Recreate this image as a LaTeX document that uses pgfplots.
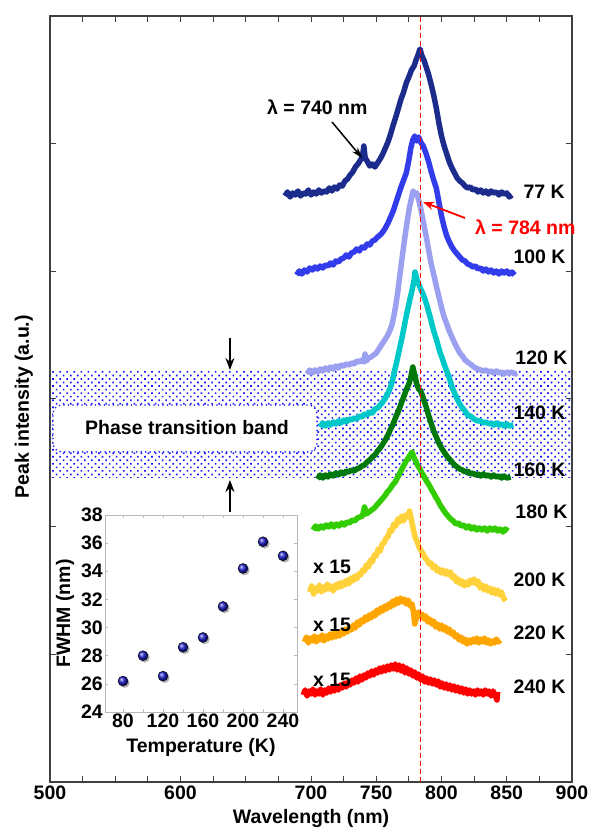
\documentclass[border=0pt]{standalone}
\usepackage{fontspec}
\setmainfont{Liberation Sans}
\usepackage{pgfplots}
\pgfplotsset{compat=1.18}
\usetikzlibrary{patterns,patterns.meta,arrows.meta,plotmarks}
\definecolor{cA}{RGB}{28,44,140}
\definecolor{cB}{RGB}{50,60,235}
\definecolor{cC}{RGB}{155,160,240}
\definecolor{cD}{RGB}{0,200,200}
\definecolor{cE}{RGB}{0,120,10}
\definecolor{cF}{RGB}{50,205,0}
\definecolor{cG}{RGB}{255,210,60}
\definecolor{cH}{RGB}{255,165,0}
\definecolor{cI}{RGB}{255,0,0}
\definecolor{ballblue}{RGB}{30,30,200}
\definecolor{dotblue}{RGB}{20,20,255}
\newcommand\fsz{\fontsize{19.5bp}{23bp}\selectfont\bfseries}
\pgfplotsset{spec/.style={line width=5.5bp, line join=round}}
\begin{document}
\begin{tikzpicture}[font=\fsz]
\begin{axis}[
  at={(0,0)}, anchor=south west,
  scale only axis, width=522bp, height=766bp,
  xmin=500, xmax=900, ymin=0, ymax=766,
  xtick={500,525,...,900},
  xticklabels={500,,,,600,,,,700,,750,,800,,850,,900},
  ytick={127.7,255.3,383,510.7,638.3},
  yticklabels={},
  tick align=inside,
  major tick length=6bp,
  axis line style={line width=1.2bp, black!75},
  tick style={line width=1bp, black!75},
  tick label style={font=\fsz},
  label style={font=\fsz},
  xlabel={Wavelength (nm)},
  ylabel={Peak intensity (a.u.)},
  xlabel style={at={(axis description cs:0.5,-0.047)}, anchor=center},
  ylabel style={at={(axis description cs:-0.050,0.49)}, anchor=center},
  clip=false,
]
% phase transition band
\addplot[draw=none, pattern={Dots[distance=5bp, angle=45, radius=1.15bp]}, pattern color=dotblue] coordinates {(500,304) (900,304) (900,411) (500,411)} -- cycle;
\filldraw[fill=white, draw=dotblue, line width=1.8bp, dash pattern=on 0bp off 4.5bp, line cap=round, rounded corners=9bp] (axis cs:502.3,330) rectangle (axis cs:704.6,377);
\node at (axis cs:605,354) {Phase transition band};
\draw[-{Stealth[length=12bp,width=9bp]}, line width=1.5bp] (axis cs:637.9,444) -- (axis cs:637.9,412);
\draw[-{Stealth[length=12bp,width=9bp]}, line width=1.5bp] (axis cs:637.9,270) -- (axis cs:637.9,302);

% 77 K
\addplot[cA, spec] coordinates {
(680,586) (682,590) (684,585) (686,589) (688,587) (690,591) (692,586) (694,589) (696,588) (698,592) (700,587) (702,590) (704,588) (706,592) (708,589) (710,591) (712,590) (714,594) (716,591) (718,595) (720,593) (722,597) (724,596) (726,601) (728,603) (730,607) (732,610) (734,615) (736,618) (738,622) (739.5,626) (740.5,636) (741.5,624) (743,621) (745,616) (747,618) (749,615) (751,619) (753,623) (755,628) (757,634) (759,640) (761,648) (763,657) (765,665) (767,674) (769,683) (771,690) (773,699) (775,705) (777,712) (779,716) (780.5,722) (782,727) (783.5,733) (785,726) (786.5,722) (788,716) (790,708) (792,698) (794,687) (796,674) (798,659) (800,646) (802,636) (804,628) (806,620) (808,614) (810,609) (812,604) (814,601) (816,599) (818,596) (820,594) (822,595) (824,592) (826,593) (828,590) (830,592) (832,589) (834,591) (836,588) (838,591) (840,589) (842,590) (844,587) (846,590) (848,588) (850,589) (852,585) (854,587)};
% 100 K
\addplot[cB, spec] coordinates {
(689,507) (691,511) (693,508) (695,512) (697,510) (699,514) (701,512) (703,515) (705,513) (707,516) (709,514) (711,517) (713,516) (715,519) (717,517) (719,521) (721,520) (723,523) (725,524) (727,527) (729,525) (731,529) (733,530) (735,533) (737,531) (739,535) (741,534) (743,538) (745,537) (747,541) (749,542) (751,545) (753,547) (755,550) (757,554) (759,559) (761,565) (763,571) (765,579) (767,587) (769,595) (771,602) (773,609) (775,622) (776.5,634) (778,642) (779.5,646) (781,641) (782.5,645) (784,640) (786,636) (788,629) (790,621) (792,611) (794,602) (796,594) (798,580) (800,566) (802,555) (804,546) (806,540) (808,535) (810,531) (812,528) (814,525) (816,522) (818,521) (820,518) (822,517) (824,515) (826,516) (828,513) (830,514) (832,511) (834,513) (836,510) (838,512) (840,509) (842,511) (844,508) (846,511) (848,509) (850,511) (852,508) (854,510) (856,507)};
% 120 K
\addplot[cC, spec] coordinates {
(697,408) (699,412) (701,409) (703,412) (705,410) (707,413) (709,411) (711,414) (713,412) (715,415) (717,413) (719,416) (721,414) (723,417) (725,416) (727,418) (729,417) (731,419) (733,418) (735,421) (737,420) (739,422) (740.5,420) (741.4,428) (742.5,421) (744,424) (746,425) (748,427) (750,429) (752,433) (754,437) (756,441) (758,445) (760,450) (762,457) (763.5,466) (765,477) (766.5,490) (768,506) (769.5,521) (771,536) (772.5,550) (774,563) (775.5,575) (777,584) (778.2,591) (779.5,588) (781,589) (782.5,582) (784,574) (785.5,564) (787,554) (788.5,544) (790,533) (791.5,522) (793,513) (794.5,505) (796,496) (797.5,488) (799,480) (800.5,472) (802,465) (804,458) (806,451) (808,445) (810,439) (812,434) (814,429) (816,426) (818,422) (820,420) (822,418) (824,416) (826,414) (828,413) (830,412) (832,411) (834,412) (836,410) (838,411) (840,409) (842,411) (844,409) (846,410) (848,408) (850,410) (852,409) (854,410) (856,408) (858,409)};
% 140 K
\addplot[cD, spec] coordinates {
(707,355) (709,359) (711,356) (713,359) (715,357) (717,360) (719,358) (721,361) (723,359) (725,362) (727,360) (729,363) (731,362) (733,364) (735,363) (737,366) (739,365) (741,368) (743,367) (745,370) (747,369) (749,373) (751,374) (753,377) (755,380) (757,384) (759,389) (761,395) (762.5,402) (764,411) (765.5,419) (767,428) (768.5,437) (770,446) (771.5,456) (773,466) (774.5,475) (776,484) (777.5,492) (779,502) (779.7,510) (781,503) (782.5,498) (784,493) (785.5,489) (787,484) (788.5,478) (790,471) (791.5,464) (793,456) (794.5,449) (796,443) (797.5,436) (799,429) (800.5,424) (802,418) (804,411) (806,404) (808,395) (810,389) (812,383) (814,378) (816,374) (818,371) (820,367) (822,366) (824,364) (826,362) (828,361) (830,361) (832,359) (834,360) (836,358) (838,359) (840,357) (842,359) (844,357) (846,358) (848,356) (850,358) (852,356) (855,357)};
% 160 K
\addplot[cE, spec] coordinates {
(705,303) (707,307) (709,304) (711,307) (713,305) (715,308) (717,306) (719,309) (721,307) (723,310) (725,308) (727,311) (729,310) (731,312) (733,311) (735,313) (737,314) (739,316) (741,317) (743,320) (745,322) (747,325) (749,327) (751,331) (753,334) (755,338) (757,342) (759,347) (761,353) (763,358) (765,365) (767,371) (769,378) (771,385) (773,392) (775,398) (776.5,405) (778,415) (779.5,407) (781,398) (782.5,393) (784,391) (785.5,386) (787,380) (788.5,374) (790,367) (792,359) (794,351) (796,345) (798,339) (800,334) (802,330) (804,326) (806,323) (808,320) (810,317) (812,315) (814,313) (816,312) (818,310) (820,311) (822,308) (824,309) (826,307) (828,308) (830,306) (832,308) (834,306) (836,307) (838,305) (840,307) (842,305) (844,306) (846,304) (848,306) (850,304) (853,305)};
% 180 K
\addplot[cF, spec] coordinates {
(701.5,252) (703.5,256) (705.5,253) (707.5,256) (709.5,254) (711.5,257) (713.5,255) (715.5,258) (717.5,255) (719.5,258) (721.5,256) (723.5,259) (725.5,257) (727.5,260) (729.5,259) (731.5,262) (733.5,261) (735.5,264) (737.5,265) (739.5,266) (741,275) (742.5,268) (744.5,270) (746.5,272) (748.5,274) (750.5,277) (752.5,280) (754.5,283) (756.5,286) (758.5,290) (760.5,293) (762.5,297) (764.5,300) (766.5,305) (768.5,310) (770.5,315) (772.5,320) (774.5,324) (776,327) (777.4,330) (779,324) (780.5,320) (782,316) (783.5,313) (785,309) (786.5,306) (788,302) (789.5,299) (791,296) (792.5,292) (794,289) (795.5,285) (797,282) (799,277) (801,273) (803,269) (805,266) (807,263) (809,261) (811,258) (813,259) (815,256) (817,257) (819,254) (821,256) (823,253) (825,255) (827,252) (829,254) (831,252) (833,254) (835,251) (837,254) (839,252) (841,254) (843,251) (845,253) (847,250) (849,253) (851,251)};
% 200 K
\addplot[cG, spec] coordinates {
(699,190) (700.5,196) (702,188) (703.5,194) (705,191) (706.5,197) (708,190) (709.5,195) (711,192) (712.5,198) (714,193) (715.5,196) (717,191) (718.5,197) (720,194) (721.5,199) (723,195) (724.5,200) (726,197) (727.5,202) (729,198) (730.5,204) (732,201) (733.5,206) (735,203) (736.5,208) (738,207) (739.5,212) (741,211) (742.5,217) (744,215) (745.5,222) (747,220) (748.5,227) (750,226) (751.5,233) (753,231) (754.5,238) (756,239) (757.5,244) (759,245) (760.5,252) (762,251) (763.5,258) (765,256) (766.5,263) (768,260) (769.5,266) (771,261) (772.5,267) (774,265) (775.5,271) (777,262) (778.5,252) (780,244) (781.5,240) (783,234) (784.5,231) (786,228) (787.5,224) (789,222) (790.5,218) (792,219) (793.5,214) (795,216) (796.5,211) (798,213) (799.5,209) (801,212) (802.5,208) (804,211) (805.5,207) (807,210) (808.5,204) (810,206) (811.5,200) (813,203) (814.5,198) (816,201) (817.5,196) (819,200) (820.5,197) (822,202) (823.5,199) (825,203) (826.5,198) (828,201) (829.5,194) (831,197) (832.5,192) (834,196) (835.5,191) (837,194) (838.5,189) (840,193) (841.5,188) (843,192) (844.5,187) (846,190) (847.5,184) (849,181)};
% 220 K
\addplot[cH, spec] coordinates {
(695,140) (696.5,145) (698,139) (699.5,144) (701,141) (702.5,146) (704,140) (705.5,145) (707,142) (708.5,147) (710,141) (711.5,146) (713,143) (714.5,148) (716,144) (717.5,149) (719,145) (720.5,150) (722,146) (723.5,151) (725,148) (726.5,153) (728,150) (729.5,155) (731,152) (732.5,157) (734,154) (735.5,160) (737,157) (738.5,162) (740,160) (741.5,165) (743,162) (744.5,167) (746,164) (747.5,169) (749,166) (750.5,172) (752,169) (753.5,174) (755,171) (756.5,176) (758,173) (759.5,178) (761,175) (762.5,181) (764,177) (765.5,183) (767,179) (768.5,184) (770,180) (771.5,183) (773,178) (774.5,182) (776,176) (777.5,178) (778.5,170) (779.5,158) (780.5,163) (782,170) (783.5,166) (785,168) (786.5,163) (788,166) (789.5,160) (791,163) (792.5,158) (794,161) (795.5,155) (797,158) (798.5,153) (800,157) (801.5,152) (803,155) (804.5,150) (806,153) (807.5,148) (809,150) (810.5,145) (812,147) (813.5,142) (815,145) (816.5,140) (818,143) (819.5,138) (821,142) (822.5,139) (824,143) (825.5,140) (827,144) (828.5,139) (830,143) (831.5,140) (833,144) (834.5,139) (836,142) (837.5,138) (839,141) (840.5,139) (842,143) (843.5,140) (845,142)};
% 240 K
\addplot[cI, spec] coordinates {
(694,87) (695.5,92) (697,86) (698.5,91) (700,88) (701.5,93) (703,87) (704.5,91) (706,88) (707.5,93) (709,87) (710.5,92) (712,89) (713.5,94) (715,90) (716.5,95) (718,91) (719.5,96) (721,92) (722.5,97) (724,94) (725.5,99) (727,95) (728.5,100) (730,97) (731.5,102) (733,99) (734.5,104) (736,100) (737.5,106) (739,102) (740.5,107) (742,104) (743.5,109) (745,106) (746.5,111) (748,107) (749.5,112) (751,109) (752.5,114) (754,110) (755.5,115) (757,111) (758.5,116) (760,112) (761.5,117) (763,113) (764.5,118) (766,112) (767.5,117) (769,111) (770.5,116) (772,109) (773.5,114) (775,108) (776.5,112) (778,106) (779.5,110) (781,104) (782.5,108) (784,102) (785.5,106) (787,100) (788.5,104) (790,99) (791.5,103) (793,98) (794.5,102) (796,97) (797.5,101) (799,95) (800.5,99) (802,94) (803.5,98) (805,93) (806.5,97) (808,92) (809.5,96) (811,91) (812.5,95) (814,90) (815.5,94) (817,89) (818.5,93) (820,88) (821.5,92) (823,88) (824.5,91) (826,87) (827.5,92) (829,88) (830.5,91) (832,87) (833.5,92) (835,88) (836.5,91) (838,86) (839.5,91) (841,87) (842.5,82) (843,90)};
% 784 nm reference line
\addplot[cI, line width=1.6bp, dash pattern=on 5bp off 3bp] coordinates {(784,0) (784,766)};

% labels
\node[anchor=west] at (axis cs:860.2,590) {77 K};
\node[anchor=west] at (axis cs:852.5,525) {100 K};
\node[anchor=west] at (axis cs:854,424) {120 K};
\node[anchor=west] at (axis cs:852.5,369) {140 K};
\node[anchor=west] at (axis cs:852.5,312) {160 K};
\node[anchor=west] at (axis cs:854,270) {180 K};
\node[anchor=west] at (axis cs:852.5,202) {200 K};
\node[anchor=west] at (axis cs:852.5,149) {220 K};
\node[anchor=west] at (axis cs:852.5,95) {240 K};
\node[anchor=west, inner sep=0pt] at (axis cs:701.5,215) {x 15};
\node[anchor=west, inner sep=0pt] at (axis cs:701.5,157) {x 15};
\node[anchor=west, inner sep=0pt] at (axis cs:701.5,102) {x 15};
\node[anchor=west, inner sep=0pt] at (axis cs:666.3,675) {λ = 740 nm};
\node[anchor=west, inner sep=0pt, text=cI] at (axis cs:825.7,555) {λ = 784 nm};
\draw[cI, line width=1.8bp, -{Stealth[length=11bp,width=8bp]}] (axis cs:818,564) -- (axis cs:785.8,580);
\draw[black, line width=1.5bp, -{Stealth[length=11bp,width=7bp]}] (axis cs:716.1,660) -- (axis cs:739.1,624);
\end{axis}

% inset
\begin{axis}[
  at={(55bp,70bp)}, anchor=south west,
  scale only axis, width=192bp, height=197bp,
  xmin=62, xmax=254, ymin=24, ymax=38,
  xtick={80,100,...,240},
  xticklabels={80,,120,,160,,200,,240},
  ytick={24,26,...,38},
  tick align=inside,
  major tick length=3bp,
  axis line style={gray!55, line width=0.8bp},
  tick style={gray!55, line width=0.6bp},
  /pgf/number format/assume math mode=true,
  tick label style={font=\fsz},
  label style={font=\fsz},
  xticklabel style={inner sep=2bp},
  yticklabel style={inner sep=2bp},
  xlabel={Temperature (K)},
  ylabel={FWHM (nm)},
  xlabel style={at={(axis description cs:0.5,-0.178)}, anchor=center},
  ylabel style={at={(axis description cs:-0.208,0.5)}, anchor=center},
  clip=false,
]
\addplot[only marks, mark=*, mark size=4.8bp, color=black!30, mark options={xshift=1.6bp, yshift=-1.8bp}] coordinates {
(80,26.2) (100,28.0) (120,26.55) (140,28.6) (160,29.3) (180,31.5) (200,34.2) (220,36.1) (240,35.1)};
\addplot[only marks, mark=ball, mark size=5bp, mark options={ball color=ballblue}] coordinates {
(80,26.2) (100,28.0) (120,26.55) (140,28.6) (160,29.3) (180,31.5) (200,34.2) (220,36.1) (240,35.1)};
\end{axis}
\pgfresetboundingbox
\path[use as bounding box] (-50bp,-46bp) rectangle (539bp,782bp);
\end{tikzpicture}
\end{document}
